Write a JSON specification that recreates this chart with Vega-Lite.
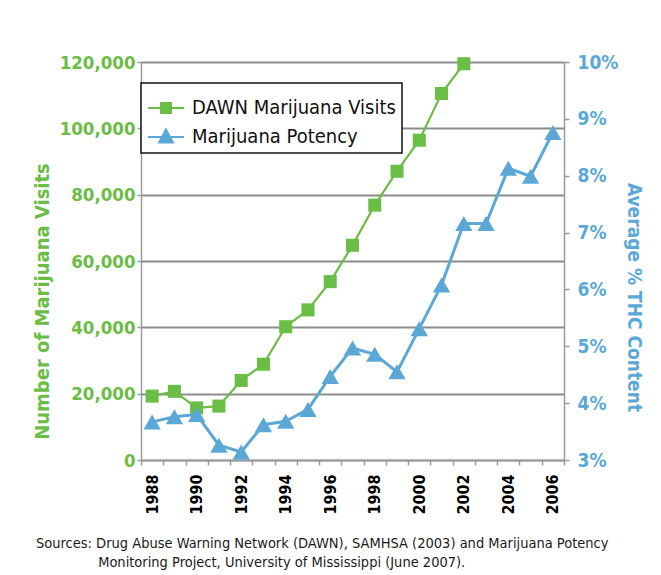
{
  "$schema": "https://vega.github.io/schema/vega-lite/v6.json",
  "width": 423,
  "height": 398,
  "autosize": {"type": "none"},
  "padding": {"left": 141, "top": 62, "right": 97, "bottom": 115},
  "background": "white",
  "datasets": {
    "dawn": [
      {"year": "1988", "series": "DAWN Marijuana Visits", "visits": 19262},
      {"year": "1989", "series": "DAWN Marijuana Visits", "visits": 20703},
      {"year": "1990", "series": "DAWN Marijuana Visits", "visits": 15706},
      {"year": "1991", "series": "DAWN Marijuana Visits", "visits": 16251},
      {"year": "1992", "series": "DAWN Marijuana Visits", "visits": 23997},
      {"year": "1993", "series": "DAWN Marijuana Visits", "visits": 28873},
      {"year": "1994", "series": "DAWN Marijuana Visits", "visits": 40183},
      {"year": "1995", "series": "DAWN Marijuana Visits", "visits": 45259},
      {"year": "1996", "series": "DAWN Marijuana Visits", "visits": 53789},
      {"year": "1997", "series": "DAWN Marijuana Visits", "visits": 64744},
      {"year": "1998", "series": "DAWN Marijuana Visits", "visits": 76842},
      {"year": "1999", "series": "DAWN Marijuana Visits", "visits": 87068},
      {"year": "2000", "series": "DAWN Marijuana Visits", "visits": 96426},
      {"year": "2001", "series": "DAWN Marijuana Visits", "visits": 110512},
      {"year": "2002", "series": "DAWN Marijuana Visits", "visits": 119472}
    ],
    "potency": [
      {"year": "1988", "series": "Marijuana Potency", "thc": 3.67},
      {"year": "1989", "series": "Marijuana Potency", "thc": 3.76},
      {"year": "1990", "series": "Marijuana Potency", "thc": 3.8},
      {"year": "1991", "series": "Marijuana Potency", "thc": 3.26},
      {"year": "1992", "series": "Marijuana Potency", "thc": 3.14},
      {"year": "1993", "series": "Marijuana Potency", "thc": 3.62},
      {"year": "1994", "series": "Marijuana Potency", "thc": 3.68},
      {"year": "1995", "series": "Marijuana Potency", "thc": 3.89},
      {"year": "1996", "series": "Marijuana Potency", "thc": 4.47},
      {"year": "1997", "series": "Marijuana Potency", "thc": 4.97},
      {"year": "1998", "series": "Marijuana Potency", "thc": 4.86},
      {"year": "1999", "series": "Marijuana Potency", "thc": 4.55},
      {"year": "2000", "series": "Marijuana Potency", "thc": 5.31},
      {"year": "2001", "series": "Marijuana Potency", "thc": 6.08},
      {"year": "2002", "series": "Marijuana Potency", "thc": 7.16},
      {"year": "2003", "series": "Marijuana Potency", "thc": 7.16},
      {"year": "2004", "series": "Marijuana Potency", "thc": 8.13},
      {"year": "2005", "series": "Marijuana Potency", "thc": 7.99},
      {"year": "2006", "series": "Marijuana Potency", "thc": 8.76}
    ]
  },
  "title": {
    "text": [
      "Sources: Drug Abuse Warning Network (DAWN), SAMHSA (2003) and Marijuana Potency",
      "\u200b\u00a0\u00a0\u00a0\u00a0\u00a0\u00a0\u00a0\u00a0\u00a0\u00a0\u00a0\u00a0\u00a0\u00a0\u00a0Monitoring Project, University of Mississippi (June 2007)."
    ],
    "orient": "bottom",
    "anchor": "start",
    "frame": "bounds",
    "offset": 23,
    "dx": 4,
    "font": "DejaVu Sans Condensed",
    "fontSize": 14.5,
    "fontWeight": "normal",
    "color": "#1a1a1a",
    "lineHeight": 19
  },
  "config": {
    "view": {"stroke": null},
    "font": "DejaVu Sans Condensed",
    "axis": {
      "labelFont": "DejaVu Sans Condensed",
      "titleFont": "DejaVu Sans Condensed",
      "labelFontWeight": "bold",
      "titleFontWeight": "bold",
      "domainColor": "#9a9a9a",
      "domainWidth": 1.5,
      "tickColor": "#9a9a9a",
      "tickWidth": 1.5
    }
  },
  "encoding": {
    "x": {
      "field": "year",
      "type": "ordinal",
      "bandPosition": 0.5,
      "scale": {
        "type": "band",
        "domain": ["1988","1989","1990","1991","1992","1993","1994","1995","1996","1997","1998","1999","2000","2001","2002","2003","2004","2005","2006"],
        "paddingInner": 0,
        "paddingOuter": 0
      },
      "axis": {
        "title": null,
        "labelAngle": -90,
        "labelAlign": "right",
        "labelBaseline": "middle",
        "labelFontSize": 16,
        "labelColor": "#000000",
        "labelPadding": 9,
        "labelExpr": "parseInt(datum.value) % 2 == 0 ? datum.label : ''",
        "tickBand": "extent",
        "tickSize": 5,
        "grid": false
      }
    }
  },
  "layer": [
    {
      "data": {"name": "dawn"},
      "encoding": {
        "y": {
          "field": "visits",
          "type": "quantitative",
          "scale": {"domain": [0, 120000], "nice": false, "zero": true},
          "axis": {
            "orient": "left",
            "title": "Number of Marijuana Visits",
            "values": [0, 20000, 40000, 60000, 80000, 100000, 120000],
            "format": ",.0f",
            "grid": true,
            "gridColor": "#8c8c8c",
            "gridWidth": 2,
            "tickSize": 4,
            "labelPadding": 2,
            "labelFontSize": 18.5,
            "labelColor": "#6abd45",
            "titleFontSize": 20,
            "titleColor": "#6abd45",
            "titleX": -99,
            "titleY": 239,
            "titleAlign": "center",
            "titleBaseline": "middle",
            "titleAngle": -90
          }
        },
        "color": {
          "field": "series",
          "type": "nominal",
          "scale": {
            "domain": ["DAWN Marijuana Visits", "Marijuana Potency"],
            "range": ["#6abd45", "#5ba8d6"]
          },
          "legend": {
            "title": null,
            "orient": "none",
            "legendX": 0,
            "legendY": 21,
            "direction": "vertical",
            "fillColor": "white",
            "strokeColor": "#111111",
            "padding": 6,
            "labelFont": "DejaVu Sans Condensed",
            "labelFontSize": 20,
            "labelColor": "#111111",
            "labelOffset": 7,
            "labelLimit": 0,
            "symbolSize": 1296,
            "rowPadding": 0,
            "encode": {
              "legend": {"update": {"strokeWidth": {"value": 1.5}}},
              "symbols": {
                "update": {
                  "shape": {"signal": "datum.value === 'DAWN Marijuana Visits' ? 'M-1,0H1M-0.28,-0.28H0.28V0.28H-0.28Z' : 'M-1,0H1M0,-0.42L0.38,0.3H-0.38Z'"},
                  "fill": {"signal": "scale('color', datum.value)"},
                  "stroke": {"signal": "scale('color', datum.value)"},
                  "strokeWidth": {"value": 2},
                  "opacity": {"value": 1}
                }
              }
            }
          }
        }
      },
      "layer": [
        {"mark": {"type": "line", "strokeWidth": 2.2}},
        {
          "mark": {"type": "point", "shape": "square", "filled": true, "opacity": 1, "size": 170}
        }
      ]
    },
    {
      "data": {"name": "potency"},
      "encoding": {
        "y": {
          "field": "thc",
          "type": "quantitative",
          "scale": {"domain": [3, 10], "nice": false, "zero": false},
          "axis": {
            "orient": "right",
            "title": "Average % THC Content",
            "values": [3, 4, 5, 6, 7, 8, 9, 10],
            "labelExpr": "datum.value + '%'",
            "grid": false,
            "tickSize": 5,
            "labelPadding": 8,
            "labelFontSize": 19,
            "labelColor": "#5ba8d6",
            "titleFontSize": 19,
            "titleColor": "#5ba8d6",
            "titleX": 69,
            "titleY": 235,
            "titleAlign": "center",
            "titleBaseline": "middle",
            "titleAngle": 90
          }
        },
        "color": {"field": "series", "type": "nominal"}
      },
      "layer": [
        {"mark": {"type": "line", "strokeWidth": 3}},
        {
          "mark": {"type": "point", "shape": "triangle-up", "filled": true, "opacity": 1, "size": 300}
        }
      ]
    }
  ],
  "resolve": {"scale": {"y": "independent"}}
}
